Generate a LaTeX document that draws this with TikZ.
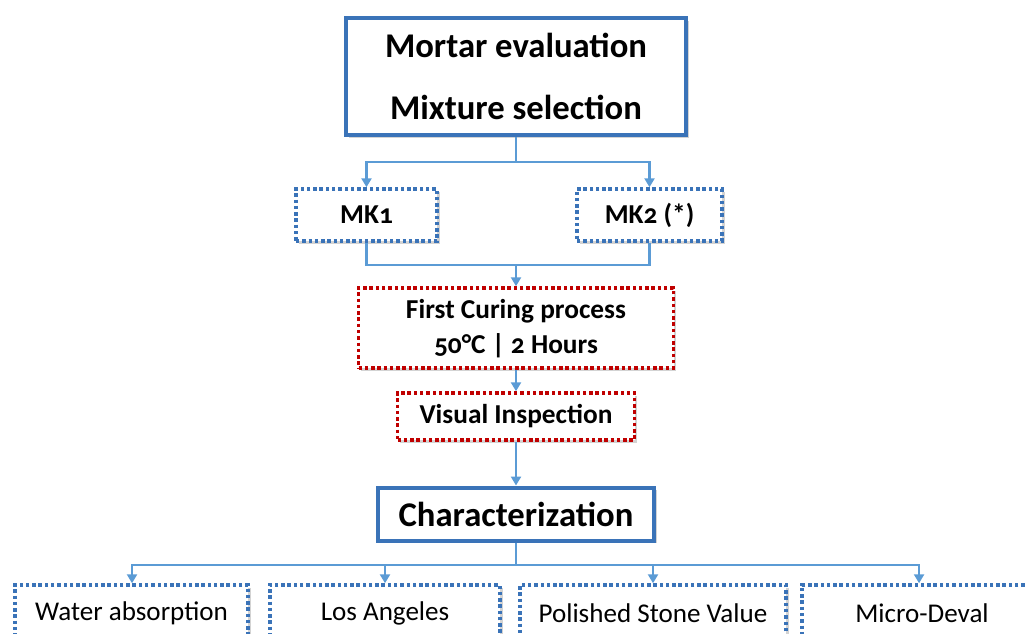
\documentclass[tikz,border=0pt]{standalone}
\usepackage{fontspec}
\setmainfont{Carlito}[Numbers=OldStyle]
\usetikzlibrary{shadows,arrows.meta}
\definecolor{boxblue}{HTML}{3A73B8}
\definecolor{linkblue}{HTML}{5B9BD5}
\definecolor{dotred}{HTML}{C00000}
\tikzset{
  x=0.75pt, y=-0.75pt,
  shad/.style={drop shadow={opacity=0.35, shadow xshift=2pt, shadow yshift=-2pt}},
  mainbox/.style={draw=boxblue, line width=3pt, fill=white, shad, inner sep=0pt, align=center, font=\bfseries},
  dotblue/.style={draw=boxblue, line width=2.6pt, dash pattern=on 2.6pt off 2.1pt, fill=white, shad, inner sep=0pt, align=center},
  dotred/.style={draw=dotred, line width=2.6pt, dash pattern=on 2.6pt off 2.1pt, fill=white, shad, inner sep=0pt, align=center, font=\bfseries},
  link/.style={draw=linkblue, line width=1.9pt},
  arr/.style={link, -{Triangle[length=6.75pt, width=7.5pt]}},
  bigtext/.style={font=\bfseries\fontsize{26}{30}\selectfont},
  midtext/.style={font=\bfseries\fontsize{20.5}{26}\selectfont},
  lowtext/.style={font=\fontsize{20.3}{24}\selectfont},
}
\begin{document}
\begin{tikzpicture}
\useasboundingbox (0,0) rectangle (1027,633);
\begin{scope}
\clip (0,0) rectangle (1027,633);
\node[mainbox, minimum width=255pt, minimum height=87.75pt, bigtext] (top) at (516,76.5)
  {Mortar evaluation\\[16pt]Mixture selection};
\node[dotblue, minimum width=105.75pt, minimum height=39pt, midtext] (mk1) at (366.5,215) {MK1};
\node[dotblue, minimum width=108.75pt, minimum height=39pt, midtext] (mk2) at (649.5,215) {MK2 (*)};
\node[dotred, minimum width=236.25pt, minimum height=60pt, midtext] (cure) at (516,328)
  {\rule{0pt}{15pt}First Curing process\\50\textdegree C | 2 Hours};
\node[dotred, minimum width=177.75pt, minimum height=35.25pt, midtext] (vis) at (516,416.5) {Visual Inspection};
\node[mainbox, minimum width=207pt, minimum height=39.75pt, bigtext] (char) at (516,514) {Characterization};
\node[dotblue, minimum width=174.75pt, minimum height=42pt, lowtext] (wa) at (131.5,613) {Water absorption};
\node[dotblue, minimum width=172.5pt, minimum height=42pt, lowtext] (la) at (385,613) {Los Angeles};
\node[dotblue, minimum width=199.5pt, minimum height=42pt, lowtext] (psv) at (653,613) {Polished Stone Value};
\node[dotblue, minimum width=180pt, minimum height=42pt, lowtext] (md) at (922,613) {Micro-Deval};
\coordinate (j1) at (516,162);
\coordinate (j2) at (516,265);
\coordinate (j3) at (516,565);
\draw[link] (top.south) -- (j1);
\draw[arr] (j1) -| (mk1.north);
\draw[arr] (j1) -| (mk2.north);
\draw[link] (mk1.south) |- (j2);
\draw[link] (mk2.south) |- (j2);
\draw[arr] (j2) -- (cure.north);
\draw[arr] (cure.south) -- (vis.north);
\draw[arr] (vis.south) -- (char.north);
\draw[link] (char.south) -- (j3);
\draw[arr] (j3) -| ([xshift=0.4pt]wa.north);
\draw[arr] (j3) -| (la.north);
\draw[arr] (j3) -| (psv.north);
\draw[arr] (j3) -| ([xshift=-2.2pt]md.north);
\end{scope}
\end{tikzpicture}
\end{document}
